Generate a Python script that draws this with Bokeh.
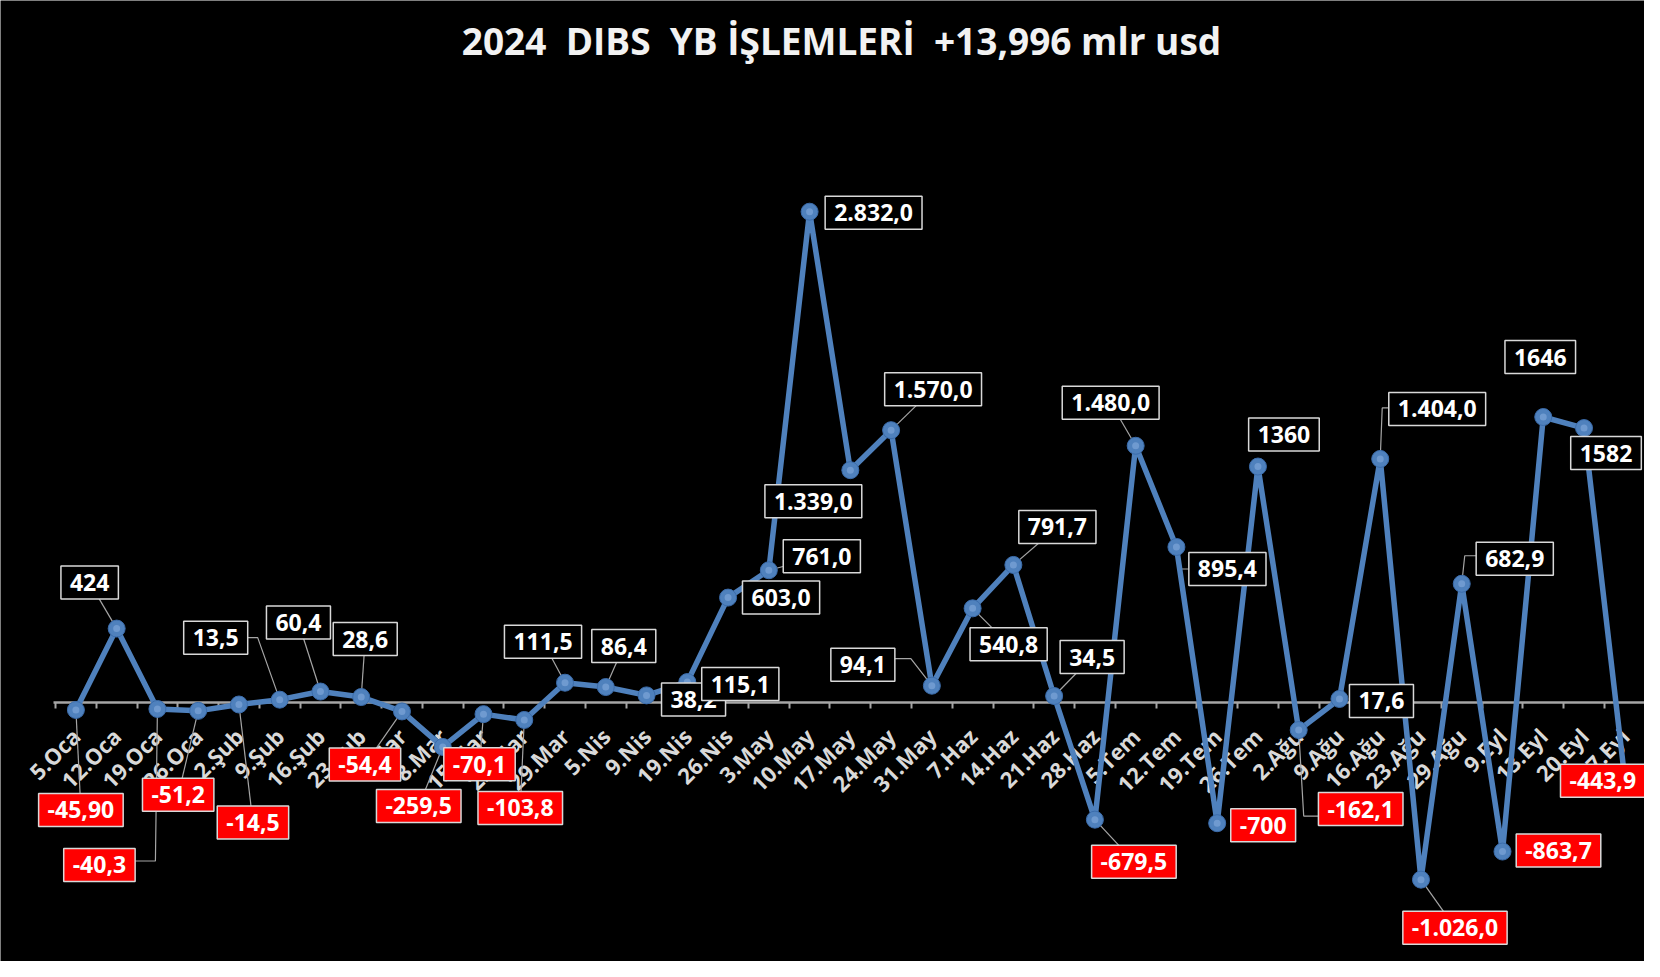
import math
from bokeh.plotting import figure
from bokeh.models import Range1d, FixedTicker, ColumnDataSource, Label
from bokeh.core.properties import value
from bokeh.embed import file_html
from bokeh.resources import INLINE

# ---------------- data ----------------
dates = ["5.Oca", "12.Oca", "19.Oca", "26.Oca", "2.Şub", "9.Şub", "16.Şub", "23.Şub",
         "1.Mar", "8.Mar", "15.Mar", "22.Mar", "29.Mar", "5.Nis", "9.Nis", "19.Nis",
         "26.Nis", "3.May", "10.May", "17.May", "24.May", "31.May", "7.Haz", "14.Haz",
         "21.Haz", "28.Haz", "5.Tem", "12.Tem", "19.Tem", "26.Tem", "2.Ağu", "9.Ağu",
         "16.Ağu", "23.Ağu", "29.Ağu", "9.Eyl", "13.Eyl", "20.Eyl", "27.Eyl"]

values = [-45.9, 424, -40.3, -51.2, -14.5, 13.5, 60.4, 28.6,
          -54.4, -259.5, -70.1, -103.8, 111.5, 86.4, 38.2, 115.1,
          603.0, 761.0, 2832.0, 1339.0, 1570.0, 94.1, 540.8, 791.7,
          34.5, -679.5, 1480.0, 895.4, -700, 1360, -162.1, 17.6,
          1404.0, -1026.0, 682.9, -863.7, 1646, 1582, -443.9]

value_labels = ["-45,90", "424", "-40,3", "-51,2", "-14,5", "13,5", "60,4", "28,6",
                "-54,4", "-259,5", "-70,1", "-103,8", "111,5", "86,4", "38,2", "115,1",
                "603,0", "761,0", "2.832,0", "1.339,0", "1.570,0", "94,1", "540,8", "791,7",
                "34,5", "-679,5", "1.480,0", "895,4", "-700", "1360", "-162,1", "17,6",
                "1.404,0", "-1.026,0", "682,9", "-863,7", "1646", "1582", "-443,9"]

title_text = "2024 \u00a0DIBS \u00a0YB İŞLEMLERİ \u00a0+13,996 mlr usd"

# ---------------- label placement (pixel offsets from each point) ----------------
label_dx = [5, -27, -58, -20, 14, -64, -22, 4,
            -37, -24, -4, -4, -22, 18, 47, 53,
            53, 53, 64, -37, 42, -69, 36, 44,
            38, 39, -25, 51, 46, 26, 62, 42,
            57, 34, 53, 56, -3, 22, -22]
label_dy = [100, -46, 156, 84, 118, -62, -69, -58,
            53, 59, 50, 88, -41, -41, 4, 2,
            0, -14, 1, 31, -41, -21, 36, -38,
            -39, 42, -43, 22, 2, -32, 79, 2,
            -50, 48, -25, -1, -60, 25, 2]
leader = [1, 1, 1, 1, 1, 1, 1, 1,
          1, 1, 1, 1, 1, 1, 0, 0,
          0, 1, 0, 0, 1, 1, 1, 1,
          1, 1, 1, 1, 0, 0, 1, 0,
          1, 1, 1, 0, 0, 0, 0]
# optional elbow of a leader line (pixel offset from the point)
elbows = {2: (-2, 152), 5: (-22, -62), 21: (-21, -27), 27: (2, 22),
          30: (5, 86), 32: (2, -51), 34: (3, -28)}

# ---------------- geometry ----------------
W, H = 1644, 961
px_per_cat = 40.76        # horizontal pixels per category
px_per_unit = 0.17313     # vertical pixels per mlr usd
first_x = 75.4            # screen x of first category centre
zero_y = 701.5            # screen y of the zero line

x_start = 0.5 - first_x / px_per_cat
x_end = x_start + W / px_per_cat
y_max = zero_y / px_per_unit
y_min = -(H - zero_y) / px_per_unit

n = len(dates)
xs = [i + 0.5 for i in range(n)]

p = figure(width=W, height=H, x_range=Range1d(x_start, x_end), y_range=Range1d(y_min, y_max),
           output_backend="svg", toolbar_location=None, y_axis_location=None,
           min_border=0, background_fill_color="black", border_fill_color="black",
           outline_line_color=None)
p.grid.visible = False

ax = p.xaxis[0]
ax.fixed_location = 0
ax.bounds = (-0.05, n)
ax.ticker = FixedTicker(ticks=xs, minor_ticks=list(range(n + 1)))
ax.major_label_overrides = {x: d for x, d in zip(xs, dates)}
ax.axis_line_color = "#a6a6a6"
ax.axis_line_width = 2.5
ax.major_tick_line_color = None
ax.minor_tick_line_color = "#a6a6a6"
ax.minor_tick_line_width = 2
ax.minor_tick_in = 0
ax.minor_tick_out = 6
ax.major_label_orientation = math.pi / 4
ax.major_label_standoff = 24
ax.major_label_text_color = "#d9d9d9"
ax.major_label_text_font = "Open Sans"
ax.major_label_text_font_style = "bold"
ax.major_label_text_font_size = "22px"
ax.level = "underlay"

title = Label(x=841, y=H - 40, x_units="screen", y_units="screen", text=title_text,
              text_align="center", text_baseline="middle", text_color="#f2f2f2",
              text_font="Open Sans", text_font_style="bold", text_font_size="37px")
p.add_layout(title)


def to_data(i, ox, oy):
    return xs[i] + ox / px_per_cat, values[i] - oy / px_per_unit


# leader lines
lxs, lys = [], []
for i in range(n):
    if not leader[i]:
        continue
    px_, py_ = [xs[i]], [values[i]]
    if i in elbows:
        ex, ey = elbows[i]
        a, b = to_data(i, ex, ey)
        px_.append(a); py_.append(b)
        a, b = to_data(i, label_dx[i], ey)
    else:
        a, b = to_data(i, label_dx[i], label_dy[i])
    px_.append(a); py_.append(b)
    lxs.append(px_); lys.append(py_)
p.multi_line(lxs, lys, line_color="#a6a6a6", line_width=1.2)

# series
p.line(xs, values, line_color="#4f81bd", line_width=5.5, line_join="round")
p.scatter(xs, values, size=17, fill_color="#4f81bd", line_color="#3b6cab", line_width=1)
p.scatter(xs, values, size=7, fill_color="#8fb4e3", fill_alpha=0.5, line_color=None)

src = ColumnDataSource(dict(
    x=xs, y=values, text=value_labels, dx=label_dx, dy=label_dy,
    fill=["#ff0000" if v < 0 else "#000000" for v in values],
))
p.text(x="x", y="y", text="text", source=src, x_offset="dx", y_offset="dy",
       text_align="center", text_baseline="middle",
       text_font=value("Open Sans"), text_font_style="bold", text_font_size="23px",
       text_color="white", background_fill_color="fill",
       border_line_color="#d9d9d9", border_line_width=1.5,
       padding=dict(left=9, right=9, top=8, bottom=8))

open("out.html", "w").write(file_html(p, INLINE))
